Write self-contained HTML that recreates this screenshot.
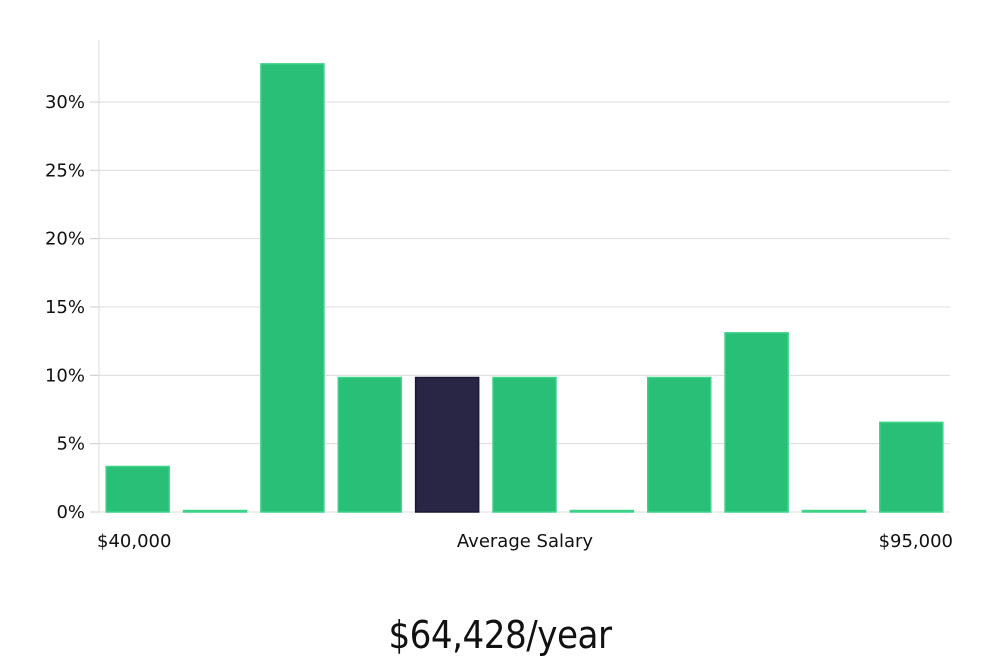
<!DOCTYPE html>
<html><head><meta charset="utf-8"><style>
html,body{margin:0;padding:0;background:#fff;}
body{width:1000px;height:660px;overflow:hidden;font-family:"DejaVu Sans","Liberation Sans",sans-serif;}
</style></head><body>
<svg id="chart" width="1000" height="660" xmlns="http://www.w3.org/2000/svg"></svg>
<script>
const categories = ["b1","b2","b3","b4","b5","b6","b7","b8","b9","b10","b11"];
const values = [3.33, 0, 32.79, 9.84, 9.84, 9.84, 0, 9.84, 13.11, 0, 6.56];
const highlight = [false,false,false,false,true,false,false,false,false,false,false];
const yTicks = [0,5,10,15,20,25,30];
const yTickLabels = ["0%","5%","10%","15%","20%","25%","30%"];

const svg = document.getElementById('chart');
const NS = "http://www.w3.org/2000/svg";
const x0 = 99, x1 = 950, yZero = 512, pxPerPct = 13.667;
const slot = (x1 - x0) / categories.length;
const barW = slot * 0.815;
function yScale(v){ return yZero - v * pxPerPct; }
function xScale(i){ return x0 + slot * i + (slot - barW) / 2; }
function mk(tag, attrs){ const e=document.createElementNS(NS,tag); for(const k in attrs) e.setAttribute(k, attrs[k]); svg.appendChild(e); return e; }

yTicks.forEach((t,i)=>{
  const y = yScale(t);
  const g = mk('line',{x1:x0,x2:x1,y1:y,y2:y,stroke:'#dcdcdc','stroke-width':1});
  
  
  const tk = mk('line',{x1:x0-9,x2:x0,y1:y,y2:y,stroke:'#cccccc','stroke-width':1});
  
  
  const tx = mk('text',{x:x0-14,y:y+6,'text-anchor':'end','font-size':18,fill:'#111'});
  tx.textContent = yTickLabels[i];
  
  
});
const ax = mk('line',{x1:x0,x2:x0,y1:40,y2:yZero,stroke:'#dcdcdc','stroke-width':1});



values.forEach((v,i)=>{
  const top = yScale(v);
  const h = Math.max(yZero - top, 1.5);
  const r = mk('rect',{x:xScale(i),y:yZero-h,width:barW,height:h,
    fill: highlight[i] ? '#292544' : '#29bf76',
    stroke: highlight[i] ? '#1a1733' : '#3fd38a','stroke-width':1.5});
  
  
});

function label(txt,x,y,anchor,size,name,extra){
  const t = mk('text',Object.assign({x:x,y:y,'text-anchor':anchor,'font-size':size,fill:'#111'},extra||{}));
  t.textContent = txt;
  
  
}
label("$40,000",97,547,'start',18,'x-min-label');
label("Average Salary",525,547,'middle',18,'x-axis-title');
label("$95,000",953,547,'end',18,'x-max-label');
label("$64,428/year",500,648,'middle',38,'average-salary-value',{'font-family':'"DejaVu Sans Condensed","DejaVu Sans",sans-serif','font-weight':'300','letter-spacing':'-0.5'});
</script>
</body></html>
